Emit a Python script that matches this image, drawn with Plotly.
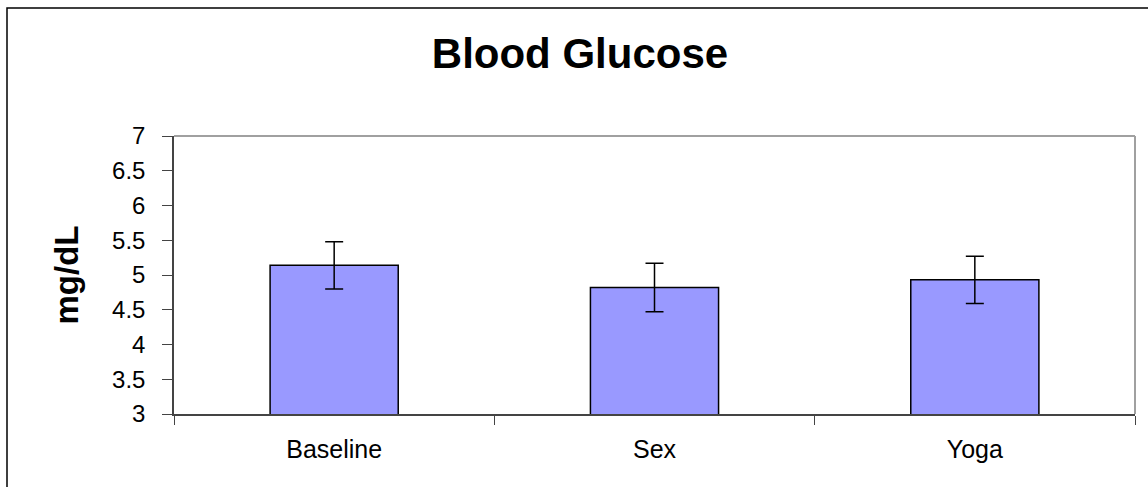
import plotly.graph_objects as go

categories = ["Baseline", "Sex", "Yoga"]
glucose = [5.14, 4.82, 4.93]
errors = [0.34, 0.35, 0.34]
y_ticks = [3, 3.5, 4, 4.5, 5, 5.5, 6, 6.5, 7]

W, H = 1148, 487
L, R, T, B = 174, 13, 136, 73
pw, ph = W - L - R, H - T - B

def px_to_paper_x(px):
    return (px - L) / pw

def px_to_paper_y(py):
    return (H - B - py) / ph

font = "Liberation Sans, Arial, sans-serif"

fig = go.Figure(go.Bar(
    x=categories,
    y=glucose,
    marker=dict(color="#9999FF", line=dict(color="black", width=1.5)),
    error_y=dict(type="data", array=errors, visible=True, color="black",
                 thickness=1.5, width=9),
    width=0.4,
))

fig.update_layout(
    width=W, height=H,
    margin=dict(l=L, r=R, t=T, b=B),
    paper_bgcolor="white", plot_bgcolor="white",
    showlegend=False,
    title=dict(text="<b>Blood Glucose</b>", x=580 / W, xanchor="center",
               y=1 - 53 / H, yanchor="middle", yref="container",
               font=dict(family=font, size=42, color="black")),
    font=dict(family=font, color="black"),
)

fig.update_xaxes(
    type="category", tickson="boundaries", ticks="outside", ticklen=9,
    tickwidth=1, tickcolor="#444", showline=True, linecolor="#444", linewidth=1.5,
    showgrid=False, tickfont=dict(family=font, size=25, color="black"),
    ticklabelstandoff=12, range=[-0.5, 2.5],
)
fig.update_yaxes(
    range=[3, 7], tickvals=y_ticks, ticktext=[f"{v:g}" for v in y_ticks],
    ticks="outside", ticklen=10, tickwidth=1, tickcolor="#444",
    showline=True, linecolor="#444", linewidth=1.5, showgrid=False, zeroline=False,
    tickfont=dict(family=font, size=24, color="black"), ticklabelstandoff=12,
    title=dict(text="<b>mg/dL</b>", font=dict(family=font, size=33, color="black"),
               standoff=24),
)

# plot-area top/right border (gray)
fig.add_shape(type="line", xref="paper", yref="paper", x0=0, x1=1, y0=1, y1=1,
              line=dict(color="#a0a0a0", width=2))
fig.add_shape(type="line", xref="paper", yref="paper", x0=1, x1=1, y0=0, y1=1,
              line=dict(color="#a0a0a0", width=2))
# outer chart border
fig.add_shape(type="rect", xref="paper", yref="paper",
              x0=px_to_paper_x(7), x1=px_to_paper_x(W + 10),
              y0=px_to_paper_y(H + 10), y1=px_to_paper_y(8),
              line=dict(color="black", width=1.5), layer="below")

fig.write_html("out.html",
               config={"displayModeBar": False},
               post_script="document.body.style.margin='0';document.body.style.overflow='hidden';")
